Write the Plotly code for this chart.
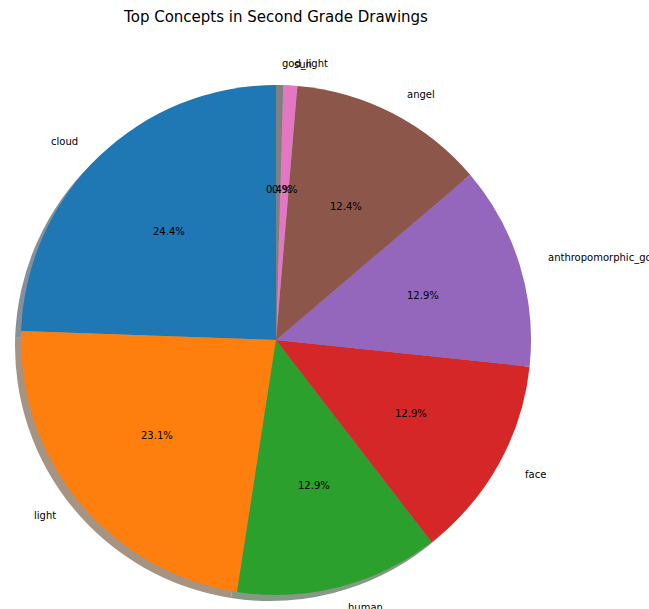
import math
import plotly.graph_objects as go

labels = ["cloud", "light", "human", "face", "anthropomorphic_god", "angel", "sun", "god_light"]
counts = [55, 52, 29, 29, 29, 28, 2, 1]
colors = ["#1f77b4", "#ff7f0e", "#2ca02c", "#d62728", "#9467bd", "#8c564b", "#e377c2", "#7f7f7f"]
title = "Top Concepts in Second Grade Drawings"

W, H = 649, 609
cx, cy = 276, 340      # pie centre in window pixels
r = 255                # pie radius in pixels
rx, ry = 257, 251      # text placement radii
sdx, sdy = -6, 6       # shadow offset in pixels


def px_x(x):
    return x / W


def px_y(y):
    return 1 - y / H


def dom(x, y, rad):
    return dict(x=[px_x(x - rad), px_x(x + rad)], y=[px_y(y + rad), px_y(y - rad)])


def shadow_color(hexc):
    h = hexc.lstrip("#")
    rgb = [int(h[i:i + 2], 16) for i in (0, 2, 4)]
    c = [round(0.15 * v + 127.5) for v in rgb]
    return "rgb(%d,%d,%d)" % tuple(c)


total = sum(counts)
rot = -360 * counts[0] / total

fig = go.Figure()
fig.add_trace(go.Pie(
    labels=labels, values=counts, sort=False, direction="counterclockwise", rotation=rot,
    marker=dict(colors=[shadow_color(c) for c in colors], line=dict(width=0)),
    textinfo="none", hoverinfo="skip", showlegend=False,
    domain=dom(cx + sdx, cy + sdy, r),
))
fig.add_trace(go.Pie(
    labels=labels, values=counts, sort=False, direction="counterclockwise", rotation=rot,
    marker=dict(colors=colors, line=dict(width=0)),
    textinfo="none", showlegend=False,
    domain=dom(cx, cy, r),
))

annotations = []
cum = 0
font = dict(family="DejaVu Sans", size=10, color="black")
for lab, v in zip(labels, counts):
    ang = math.radians(90 + 360 * (cum + v / 2) / total)
    cum += v
    c, s = math.cos(ang), math.sin(ang)
    lx = cx + 1.1 * rx * c
    ly = cy - 1.1 * ry * s
    annotations.append(dict(
        x=px_x(lx), y=px_y(ly), xref="paper", yref="paper", text=lab, showarrow=False,
        xanchor="left" if c > 0 else "right", yanchor="middle", font=font,
    ))
    pxx = cx + 0.6 * rx * c
    pyy = cy - 0.6 * ry * s
    annotations.append(dict(
        x=px_x(pxx), y=px_y(pyy), xref="paper", yref="paper", text="%.1f%%" % (100 * v / total),
        showarrow=False, xanchor="center", yanchor="middle", font=font,
    ))

fig.update_layout(
    width=W, height=H,
    margin=dict(l=0, r=0, t=0, b=0),
    paper_bgcolor="white", plot_bgcolor="white",
    title=dict(text=title, x=px_x(276), xanchor="center", y=px_y(17), yanchor="middle",
               font=dict(family="DejaVu Sans", size=15, color="black")),
    annotations=annotations,
    showlegend=False,
)

fig.write_html(
    "out.html",
    config={"displayModeBar": False},
    post_script="document.body.style.margin='0';document.body.style.overflow='hidden';",
)
